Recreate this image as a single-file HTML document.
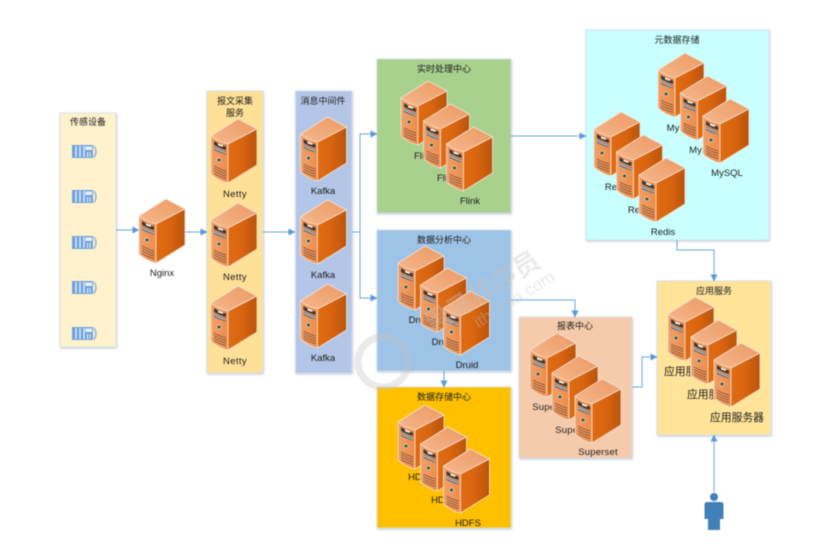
<!DOCTYPE html>
<html><head><meta charset="utf-8">
<style>
html,body{margin:0;padding:0;background:#fff}
svg{display:block;filter:blur(0.4px)}
text{font-family:"Liberation Sans","Noto Sans CJK SC",sans-serif;fill:#1c1c1c;font-size:9.5px;text-anchor:middle}
.t{font-size:9px}
.z{font-size:10.8px}
.n{letter-spacing:.35px}
.u{letter-spacing:.2px}
.w{font-weight:bold;fill:#c4c4c4}
</style></head><body>
<svg width="813" height="552" viewBox="0 0 813 552" xmlns="http://www.w3.org/2000/svg">
<defs>
<linearGradient id="top" x1="0" y1="1" x2="1" y2="0"><stop offset="0" stop-color="#f6b78c"/><stop offset="1" stop-color="#ec9a63"/></linearGradient>
<linearGradient id="front" x1="0" y1="0" x2="1" y2="0"><stop offset="0" stop-color="#f2a068"/><stop offset="1" stop-color="#ec8c4a"/></linearGradient>
<linearGradient id="side" x1="0" y1="0" x2="1" y2="0"><stop offset="0" stop-color="#e06c14"/><stop offset="0.5" stop-color="#d8640f"/><stop offset="1" stop-color="#b9540d"/></linearGradient>
<filter id="sh" x="-5%" y="-5%" width="110%" height="110%"><feDropShadow dx="0.5" dy="1" stdDeviation="1" flood-color="#7f93ad" flood-opacity="0.5"/></filter>
<g id="s">
<path d="M0 17 L27 0 L46 10 L17 25 Q7 23 0 17Z" fill="url(#top)" stroke="#f3e3d6" stroke-width=".8"/>
<path d="M0 17 Q7 23 17 25 L17 64 Q6 61 0 55Z" fill="url(#front)" stroke="#f3e3d6" stroke-width=".8"/>
<path d="M17 25 L46 10 L46 46 L17 64Z" fill="url(#side)" stroke="#f3e3d6" stroke-width=".8"/>
<path d="M3 22 Q9 26 15 27.500 V31 Q9 29.500 3 26Z" fill="#3a3a3a"/>
<path d="M7 24.500 L12 26.200 V28 L7 26.500Z" fill="#f5eee8"/>
<path d="M3 27.500 Q9 31 15 32.500 V35.500 Q9 34 3 31Z" fill="#5c6b7c"/>
<path d="M3 29 Q9 32 15 34" stroke="#e8e3df" stroke-width=".7" fill="none"/>
<circle cx="8" cy="41" r="2" fill="#3d5c46" stroke="#f5d9c3" stroke-width=".7"/>
<path d="M3 47 Q9 50.500 15 52 M3 49.500 Q9 53 15 54.500 M3 52 Q9 55.500 15 57 M3 54.500 Q9 58 15 59.500" stroke="#5b3f30" stroke-width=".7" fill="none"/>
</g>
<g id="c">
<rect x="0" y="0" width="21" height="13" fill="#6fa3de"/>
<path d="M4 1V12 M8 1V12 M12 1V12" stroke="#eaf2fb" stroke-width="1.300"/>
<rect x="13.500" y="1.500" width="6.500" height="3.500" fill="#eaf2fb"/>
<path d="M15.500 7V12 M18 7V12" stroke="#eaf2fb" stroke-width="1"/>
<path d="M22 1 Q26 6.500 22 12.500" stroke="#8fb3d9" stroke-width="1.400" fill="none"/>
</g>
<marker id="a" viewBox="0 0 7 7" refX="6.500" refY="3.500" markerWidth="7" markerHeight="7" orient="auto" markerUnits="userSpaceOnUse"><path d="M0 0 L7 3.500 L0 7Z" fill="#5b9bd5"/></marker>
</defs>

<!-- boxes -->
<g filter="url(#sh)" stroke="#d5dfe9" stroke-width=".8">
<rect x="60" y="113" width="56" height="234" fill="#fff2cc"/>
<rect x="207" y="91" width="56" height="282" fill="#ffe097"/>
<rect x="295.500" y="91" width="56.500" height="282" fill="#b4c6e7"/>
<rect x="377" y="59" width="134" height="154" fill="#a9d18e"/>
<rect x="377" y="230" width="134" height="141" fill="#9dc3e6"/>
<rect x="377" y="387" width="134" height="141" fill="#ffc000"/>
<rect x="586" y="30" width="183" height="210" fill="#c9ffff"/>
<rect x="519" y="317" width="113" height="141" fill="#f6cbac"/>
<rect x="657" y="281" width="114" height="154" fill="#ffe49a"/>
</g>

<!-- connectors -->
<g fill="none" stroke="#6ba5da" stroke-width="1" marker-end="url(#a)">
<path d="M116 230H139"/>
<path d="M185 232H207"/>
<path d="M263 232H295"/>
<path d="M352 232H360V134H377"/>
<path d="M352 232H360V298H377"/>
<path d="M511 136H586"/>
<path d="M511 300H575V317"/>
<path d="M444 371V387"/>
<path d="M677 240V250H714V281"/>
<path d="M632 387H642V357H657"/>
<path d="M714 492V435"/>
</g>

<!-- titles -->
<text class="t" x="88" y="125">传感设备</text>
<text class="t" x="235" y="104">报文采集</text>
<text class="t" x="235" y="116">服务</text>
<text class="t" x="323" y="104">消息中间件</text>
<text class="t" x="444" y="72">实时处理中心</text>
<text class="t" x="444" y="243">数据分析中心</text>
<text class="t" x="444" y="400">数据存储中心</text>
<text class="t" x="677" y="43">元数据存储</text>
<text class="t" x="575" y="329">报表中心</text>
<text class="t" x="714" y="294">应用服务</text>

<!-- sensors -->
<use href="#c" x="72" y="145"/><use href="#c" x="72" y="190"/><use href="#c" x="72" y="236"/><use href="#c" x="72" y="281"/><use href="#c" x="72" y="327"/>

<!-- nginx/netty/kafka -->
<use href="#s" x="139" y="199"/><text x="162" y="276">Nginx</text>
<use href="#s" x="211" y="119"/><text class="n" x="235" y="197">Netty</text>
<use href="#s" x="211" y="203"/><text class="n" x="235" y="280">Netty</text>
<use href="#s" x="211" y="286"/><text class="n" x="235" y="364">Netty</text>
<use href="#s" x="300.500" y="117"/><text x="323" y="194">Kafka</text>
<use href="#s" x="300.500" y="200"/><text x="323" y="278">Kafka</text>
<use href="#s" x="300.500" y="284"/><text x="323" y="361">Kafka</text>

<!-- flink -->
<text x="424" y="159">Flink</text><use href="#s" x="401" y="81"/>
<text x="447" y="181">Flink</text><use href="#s" x="423.500" y="104"/>
<text x="470" y="204">Flink</text><use href="#s" x="446.500" y="127"/>

<!-- druid -->
<text x="420" y="323">Druid</text><use href="#s" x="398" y="246"/>
<text x="443" y="345">Druid</text><use href="#s" x="420.500" y="268"/>
<text x="467" y="368">Druid</text><use href="#s" x="443.500" y="291"/>

<!-- hdfs -->
<text x="421" y="480">HDFS</text><use href="#s" x="398" y="405"/>
<text x="444" y="503">HDFS</text><use href="#s" x="420.500" y="427"/>
<text x="468" y="526">HDFS</text><use href="#s" x="443.500" y="449"/>

<!-- mysql -->
<text x="682.500" y="131">MySQL</text><use href="#s" x="658" y="53"/>
<text x="705" y="153">MySQL</text><use href="#s" x="680.500" y="76"/>
<text x="727" y="176">MySQL</text><use href="#s" x="703" y="99"/>

<!-- redis -->
<text x="617" y="190">Redis</text><use href="#s" x="594" y="112"/>
<text x="640" y="213">Redis</text><use href="#s" x="616.500" y="135"/>
<text x="663" y="235">Redis</text><use href="#s" x="639" y="158"/>

<!-- superset -->
<text class="u" x="552" y="410">Superset</text><use href="#s" x="530" y="333"/>
<text class="u" x="575" y="433">Superset</text><use href="#s" x="552" y="356"/>
<text class="u" x="598" y="455">Superset</text><use href="#s" x="575" y="379"/>

<!-- app -->
<text class="z" x="691" y="375">应用服务器</text><use href="#s" x="668" y="297"/>
<text class="z" x="714" y="398">应用服务器</text><use href="#s" x="691" y="320"/>
<text class="z" x="737" y="421">应用服务器</text><use href="#s" x="714" y="343"/>

<!-- person -->
<circle cx="714" cy="497" r="4" fill="#4480b8"/>
<path d="M707 502H721Q723.500 502 723.500 505V519H720V530H708V519H704.500V505Q704.500 502 707 502Z" fill="#4480b8"/>

<!-- watermark -->
<g opacity=".35">
<circle cx="383" cy="362" r="25" fill="none" stroke="#c4c4c4" stroke-width="7"/>
<text class="w" x="0" y="9" transform="translate(482 292) rotate(-32)" style="font-size:26px">黑马程序员</text>
<text x="0" y="6" transform="translate(514 299) rotate(-32)" style="font-size:17px;fill:#c4c4c4">itheima.com</text>
</g>
</svg>
</body></html>
